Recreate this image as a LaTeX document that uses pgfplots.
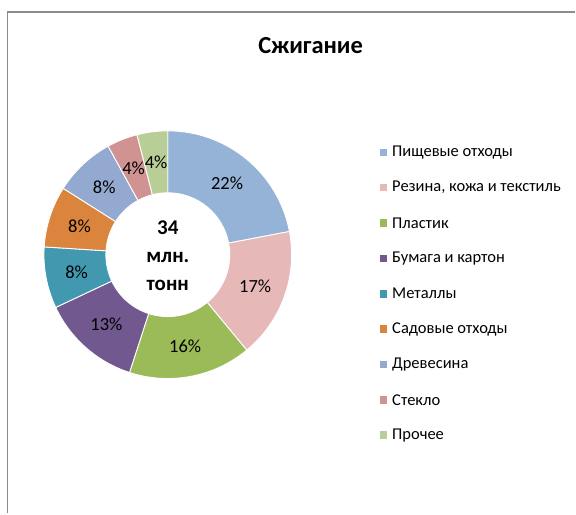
\documentclass[border=0pt]{standalone}
\usepackage{fontspec}
\setmainfont{Carlito}
\usepackage{pgfplots}
\usepackage{pgfplotstable}
\pgfplotsset{compat=1.18}

\definecolor{c0}{HTML}{95B3D7}
\definecolor{c1}{HTML}{E6B9B8}
\definecolor{c2}{HTML}{9BBB59}
\definecolor{c3}{HTML}{71588F}
\definecolor{c4}{HTML}{4198AF}
\definecolor{c5}{HTML}{DB843D}
\definecolor{c6}{HTML}{93A9CF}
\definecolor{c7}{HTML}{D19392}
\definecolor{c8}{HTML}{B9CD96}
\definecolor{framegray}{HTML}{8C8C8C}

\pgfplotstableread[col sep=semicolon]{
name;value
Пищевые отходы;22
Резина, кожа и текстиль;17
Пластик;16
Бумага и картон;13
Металлы;8
Садовые отходы;8
Древесина;8
Стекло;4
Прочее;4
}\wastedata

\tikzset{
  pct/.style={font=\fontsize{18.5}{21}\selectfont, text=black},
  legtext/.style={font=\fontsize{16.5}{19}\selectfont, text=black, anchor=west, inner sep=0pt},
}

\begin{document}
\begin{tikzpicture}
\begin{axis}[
  width=576pt, height=514pt, scale only axis,
  xmin=0, xmax=576, ymin=0, ymax=514,
  hide axis, clip=false,
]
\path (axis cs:0,0) rectangle (axis cs:576,514);
\pgfplotstablegetrowsof{\wastedata}
\pgfmathtruncatemacro{\nrows}{\pgfplotsretval-1}
\def\cum{0}
\pgfplotsforeachungrouped \i in {0,...,\nrows}{%
  \pgfplotstablegetelem{\i}{value}\of{\wastedata}%
  \let\v\pgfplotsretval
  \pgfplotstablegetelem{\i}{name}\of{\wastedata}%
  \let\nm\pgfplotsretval
  \pgfmathsetmacro{\a}{90-3.6*\cum}%
  \pgfmathsetmacro{\b}{90-3.6*(\cum+\v)}%
  \pgfmathsetmacro{\m}{(\a+\b)/2}%
  \pgfmathsetmacro{\cum}{\cum+\v}%
  \pgfmathsetmacro{\ly}{514-152.5-35.4*\i}%
  \pgfmathsetmacro{\lyb}{\ly-3.8}%
  \pgfmathsetmacro{\lyt}{\ly+3.8}%
  \edef\temp{%
    \noexpand\fill[c\i, draw=white, line width=0.9pt]
      (axis cs:168,259) ++(\a:124pt)
      arc[start angle=\a, end angle=\b, radius=124pt]
      -- ([shift={(\b:62pt)}]axis cs:168,259)
      arc[start angle=\b, end angle=\a, radius=62pt] -- cycle;
    \noexpand\node[pct] at ([shift={(\m:93pt)}]axis cs:168,259) {\v\noexpand\%};
    \noexpand\fill[c\i] (axis cs:380,\lyb) rectangle (axis cs:387.6,\lyt);
    \noexpand\node[legtext] at (axis cs:392.5,\ly) {\nm};
  }%
  \temp
}
\node[font=\fontsize{21}{28}\selectfont\bfseries, align=center] at (axis cs:168,258) {34\\млн.\\тонн};
\node[font=\fontsize{24.5}{28}\selectfont\bfseries] at (axis cs:311,468) {Сжигание};
\draw[framegray, line width=1.4pt] (axis cs:7.5,0) -- (axis cs:7.5,502) -- (axis cs:576,502);
\end{axis}
\end{tikzpicture}
\end{document}
